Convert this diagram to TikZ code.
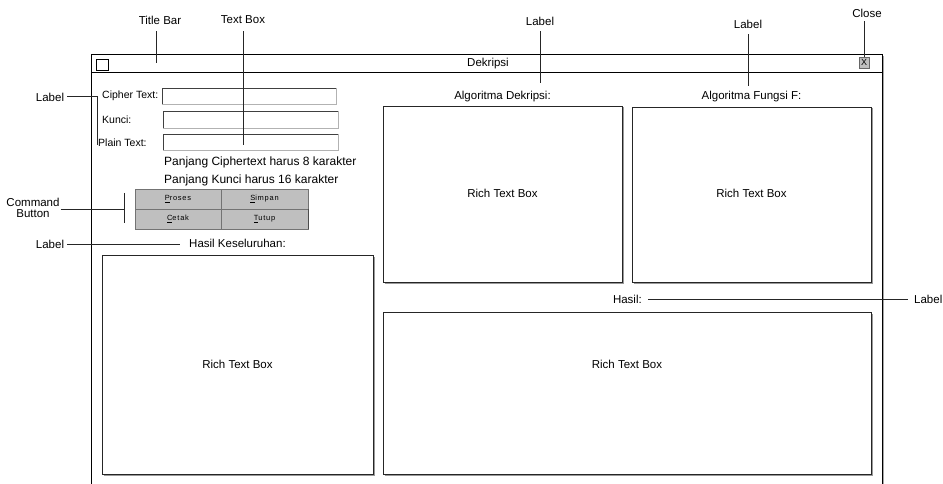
\documentclass[tikz,border=0pt]{standalone}
\usepackage{fontspec}
\setmainfont{Liberation Sans}
\newfontfamily\btnfont[LetterSpace=10]{Liberation Sans}
\usetikzlibrary{positioning}
\def\sunkbox(#1,#2)(#3,#4){\draw[black!30] (#3,#2) -- (#3,#4) -- (#1,#4); \draw[black!75] (#1,#4) -- (#1,#2) -- (#3,#2);}
\def\richbox(#1,#2)(#3,#4){\draw[black!40, line width=0.9pt] (#1+1.5,#4+1.5) -- (#3+1.5,#4+1.5) -- (#3+1.5,#2+1.5); \draw[line width=0.8pt, color=black!85] (#1,#2) rectangle (#3,#4);}

\begin{document}
\begin{tikzpicture}[x=1pt, y=-1pt,
	lbl/.style={font=\fontsize{11.5}{13}\selectfont, inner sep=1pt},
	fld/.style={font=\fontsize{10.5}{12}\selectfont, inner sep=1pt, anchor=west},
	btn/.style={draw=black!55, fill=black!25, line width=0.6pt},
	btntext/.style={font=\btnfont\fontsize{7.5}{9}\selectfont, inner sep=0pt},
	callout/.style={line width=0.6pt, color=black!85}]
			%%%%% START %%%%%
			
			\useasboundingbox (0,0) rectangle (943,484);
			\clip (0,0) rectangle (943,484);
			
			\draw[black!35, line width=0.9pt] (883.5,56) -- (883.5,484);
			\draw[line width=0.8pt] (91,484) -- (91,54) -- (882,54) -- (882,484);
			\draw[line width=0.8pt] (91,72) -- (882,72);
			\draw[line width=0.6pt] (96,59) rectangle (108,70);
			\node[lbl] (title) at (488,64) {Dekripsi};
			
			\node[draw=black!60, fill=black!25, minimum width=10pt, minimum height=11pt, inner sep=0pt, font=\fontsize{9}{10}\selectfont] (closebtn) at (864,62.5) {X};
			
			\node[fld] (cipherlbl) at (101,96) {Cipher Text:};
			\node[fld] (kuncilbl) at (101,120) {Kunci:};
			\node[fld] (plainlbl) at (97,143) {Plain Text:};
			\sunkbox(162,88)(336,104)
			\sunkbox(163,111)(338,128)
			\sunkbox(163,134)(338,150)
			
			\node[lbl, anchor=west, font=\fontsize{12}{14}\selectfont] (pjcipher) at (163,162) {Panjang Ciphertext harus 8 karakter};
			\node[lbl, anchor=west, font=\fontsize{12}{14}\selectfont] (pjkunci) at (163,180) {Panjang Kunci harus 16 karakter};
			
			\draw[btn] (135,189) rectangle (221,209);
			\draw[btn] (221,189) rectangle (308,209);
			\draw[btn] (135,209) rectangle (221,229);
			\draw[btn] (221,209) rectangle (308,229);
			\draw[line width=1pt, color=black!70] (308,209) -- (308,229);
			\node[btntext] (proses) at (178,199) {\underline{P}roses};
			\node[btntext] (simpan) at (264.5,199) {\underline{S}impan};
			\node[btntext] (cetak) at (178,219) {\underline{C}etak};
			\node[btntext] (tutup) at (264.5,219) {\underline{T}utup};
			
			\node[lbl] (hasilkes) at (237.5,243) {Hasil Keseluruhan:};
			\richbox(102,255)(373,474)
			\node[lbl] (rtbkes) at (237.5,364) {Rich Text Box};
			
			\node[lbl] (algdek) at (502.5,97) {Algoritma Dekripsi:};
			\richbox(383,106)(622,282)
			\node[lbl] (rtbdek) at (502.5,193) {Rich Text Box};
			
			\node[lbl] (algfun) at (751.5,97) {Algoritma Fungsi F:};
			\richbox(632,107)(871,282)
			\node[lbl] (rtbfun) at (751.5,193) {Rich Text Box};
			
			\node[lbl, anchor=east] (hasil) at (643,299) {Hasil:};
			\richbox(383,312)(871,474)
			\node[lbl] (rtbhasil) at (627,364) {Rich Text Box};
			
			%% callouts
			\node[lbl] (tbar) at (160,20) {Title Bar};
			\coordinate (tbarend) at (156,63);
			\draw[callout, shorten <=6pt] (tbar.south -| tbarend) -- (tbarend);
			
			\node[lbl] (tbox) at (243,20) {Text Box};
			\coordinate (tboxend) at (243,145);
			\draw[callout, shorten <=6pt] (tbox.south -| tboxend) -- (tboxend);
			
			\node[lbl] (lbldek) at (540,21) {Label};
			\coordinate (lbldekend) at (540,83);
			\draw[callout, shorten <=5pt] (lbldek.south -| lbldekend) -- (lbldekend);
			
			\node[lbl] (lblfun) at (748,24) {Label};
			\coordinate (lblfunend) at (748,86);
			\draw[callout, shorten <=5pt] (lblfun.south -| lblfunend) -- (lblfunend);
			
			\node[lbl] (close) at (867,13) {Close};
			\draw[callout, shorten <=3pt] (close.south -| closebtn) -- (closebtn.north);
			
			\node[lbl] (lblfld) at (50,97) {Label};
			\coordinate (fldtop) at (97,96);
			\coordinate (fldbot) at (97,145);
			\draw[callout, shorten <=2pt] (lblfld.east |- fldtop) -- (fldtop) -- (fldbot);
			
			\node[lbl, align=center, font=\fontsize{11.5}{11.5}\selectfont] (cmd) at (33,208) {Command\\Button};
			\coordinate (cmdtop) at (124,193);
			\coordinate (cmdbot) at (124,223);
			\coordinate (cmdmid) at (124,209);
			\draw[callout] (cmdtop) -- (cmdbot);
			\draw[callout] (cmd.east |- cmdmid) -- (cmdmid);
			
			\node[lbl] (lblkes) at (50,244) {Label};
			\draw[callout, shorten <=2pt, shorten >=8pt] (lblkes.east) -- (hasilkes.west |- lblkes.east);
			
			\node[lbl, anchor=west] (lblhasil) at (913,299) {Label};
			\draw[callout, shorten <=5pt, shorten >=5pt] (hasil.east) -- (lblhasil.west);
			
			%%%%% END %%%%%
\end{tikzpicture}
\end{document}
